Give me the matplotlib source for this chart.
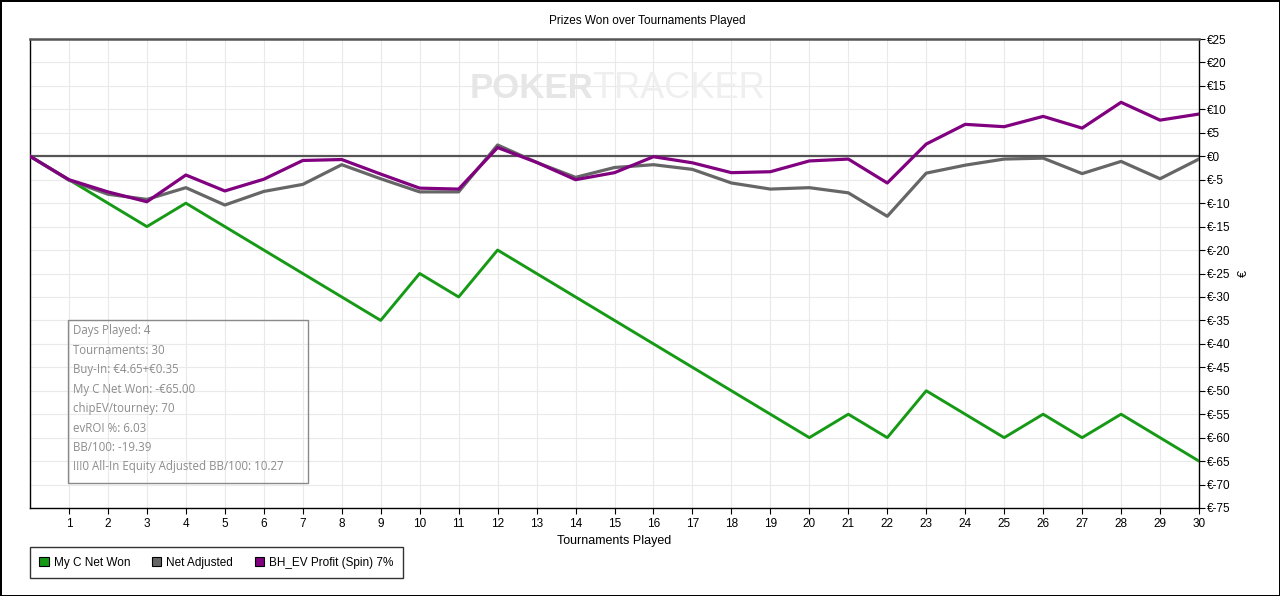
import matplotlib.pyplot as plt
from matplotlib.patches import Patch, Rectangle

# data
tournaments = list(range(31))
net_won = [0, -5, -10, -15, -10, -15, -20, -25, -30, -35, -25, -30, -20, -25, -30,
           -35, -40, -45, -50, -55, -60, -55, -60, -50, -55, -60, -55, -60, -55, -60, -65]
net_adjusted = [0, -5.1, -8.1, -9.2, -6.7, -10.4, -7.5, -6.0, -1.8, -4.8, -7.6, -7.6, 2.4,
                -1.3, -4.5, -2.4, -1.8, -2.8, -5.7, -7.0, -6.7, -7.8, -12.8, -3.6, -1.9,
                -0.6, -0.4, -3.7, -1.1, -4.8, -0.6]
bh_ev = [0, -5.0, -7.6, -9.7, -4.0, -7.4, -4.9, -0.9, -0.7, -3.8, -6.8, -7.0, 1.85,
         -1.3, -5.0, -3.5, -0.1, -1.4, -3.5, -3.3, -1.0, -0.6, -5.7, 2.6, 6.8, 6.3,
         8.5, 6.0, 11.5, 7.7, 9.0]

series_names = ['My C Net Won', 'Net Adjusted', 'BH_EV Profit (Spin) 7%']
series_colors = ['#169a16', '#666666', '#800080']

y_ticks = list(range(25, -80, -5))
x_ticks = list(range(1, 31))

info_lines = [
    'Days Played: 4',
    'Tournaments: 30',
    'Buy-In: €4.65+€0.35',
    'My C Net Won: -€65.00',
    'chipEV/tourney: 70',
    'evROI %: 6.03',
    'BB/100: -19.39',
    '!!!0 All-In Equity Adjusted BB/100: 10.27',
]

plt.rcParams['font.family'] = ['Liberation Sans', 'DejaVu Sans']

fig = plt.figure(figsize=(12.8, 5.96), dpi=100)
fig.patch.set_edgecolor('black')
fig.patch.set_linewidth(2)

ax = fig.add_axes([30 / 1280, 1 - 508 / 596, 1169 / 1280, 469 / 596])

ax.grid(True, color='#e9e9e9', linewidth=0.8, zorder=0)
ax.axhline(0, color='#555555', linewidth=1.6, zorder=2)

ax.plot(tournaments, net_won, color=series_colors[0], linewidth=2.1, zorder=3)
ax.plot(tournaments, net_adjusted, color=series_colors[1], linewidth=2.3, zorder=4)
ax.plot(tournaments, bh_ev, color=series_colors[2], linewidth=2.3, zorder=5)

ax.set_xlim(0, 30)
ax.set_ylim(-75, 25)
ax.set_xticks(x_ticks)
ax.set_yticks(y_ticks)
ax.set_yticklabels([f'€{v}' for v in y_ticks])
ax.yaxis.tick_right()
ax.yaxis.set_label_position('right')
ax.tick_params(axis='both', labelsize=8.5, length=4, width=0.8, color='black')
ax.tick_params(axis='y', pad=2)
ax.set_ylabel('€', fontsize=9, rotation=90, labelpad=5)
ax.set_xlabel('Tournaments Played', fontsize=9, labelpad=3)

for side in ['left', 'bottom', 'right']:
    ax.spines[side].set_color('black')
    ax.spines[side].set_linewidth(1.0)
ax.spines['top'].set_color('#555555')
ax.spines['top'].set_linewidth(1.8)

# watermark
fig.text(470 / 1280, 1 - 88 / 596, 'POKER', fontsize=25,
         fontweight='bold', color='#e6e6e6', ha='left', va='center', zorder=1)
fig.text(765 / 1280, 1 - 88 / 596, 'TRACKER', fontsize=26,
         color='#efefef', ha='right', va='center', zorder=1)

# info box
fig.patches.append(Rectangle((68 / 1280, 1 - 483 / 596), 240 / 1280, 163 / 596,
                             transform=fig.transFigure, fill=False,
                             edgecolor='#8a8a8a', linewidth=1.0))
for i, line in enumerate(info_lines):
    fig.text(73 / 1280, 1 - (331 + i * 19.4) / 596, line, fontsize=8.3,
             color='#8c8c8c', va='center', ha='left',
             family=['Open Sans', 'DejaVu Sans'])

fig.text(647 / 1280, 1 - 21 / 596, 'Prizes Won over Tournaments Played',
         fontsize=8.5, ha='center', va='center')

handles = [Patch(facecolor=c, edgecolor='black', linewidth=0.8) for c in series_colors]
leg = fig.legend(handles, series_names, loc='lower left',
                 bbox_to_anchor=(30 / 1280, 1 - 578 / 596), ncol=3, fontsize=8.5,
                 frameon=True, fancybox=False, edgecolor='black',
                 handlelength=0.8, handleheight=0.8, handletextpad=0.4,
                 columnspacing=1.85, borderpad=0.8, borderaxespad=0)
leg.get_frame().set_linewidth(1.0)

fig.savefig('out.png', dpi=100)
